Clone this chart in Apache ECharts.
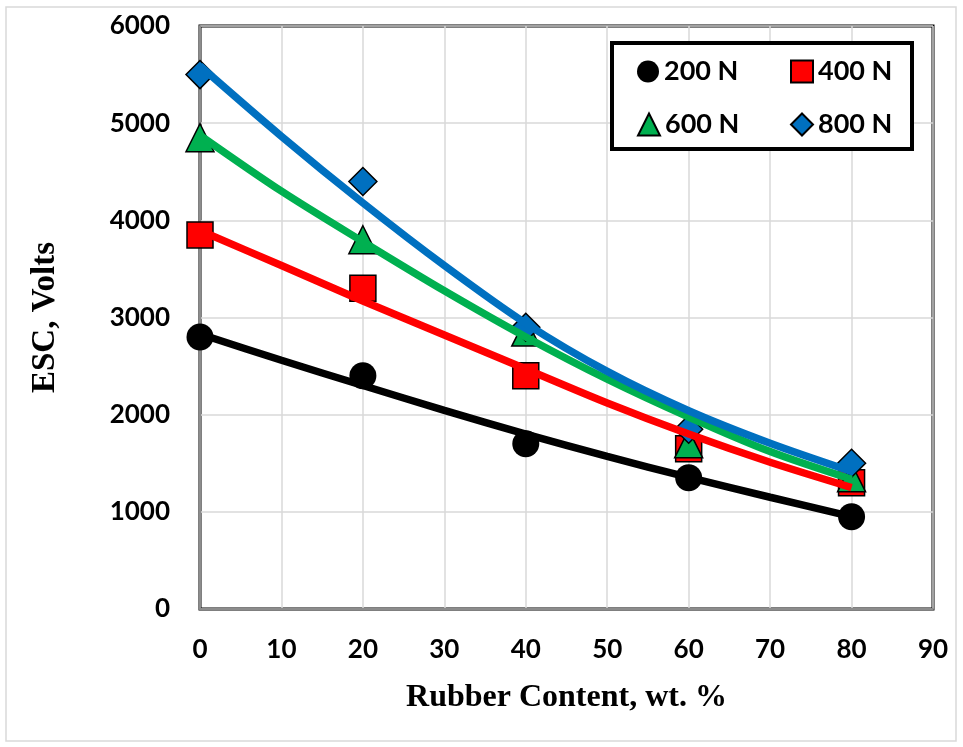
<!DOCTYPE html>
<html>
<head>
<meta charset="utf-8">
<script src="https://cdn.jsdelivr.net/npm/echarts@6/dist/echarts.min.js"></script>
<style>
html,body{margin:0;padding:0;background:#fff;}
#chart{width:963px;height:747px;}
</style>
</head>
<body>
<div id="chart"></div>
<script>
var xValues = [0, 20, 40, 60, 80];
var esc200 = [2800, 2400, 1700, 1350, 950];
var esc400 = [3850, 3300, 2400, 1650, 1300];
var esc600 = [4850, 3800, 2850, 1700, 1350];
var esc800 = [5500, 4400, 2900, 1850, 1500];
// Trend-line values every 10 wt.%
var fitX = [0, 10, 20, 30, 40, 50, 60, 70, 80];
var fit200 = [2830, 2560, 2300, 2045, 1800, 1570, 1355, 1150, 950];
var fit400 = [3895, 3535, 3170, 2820, 2470, 2120, 1800, 1510, 1250];
var fit600 = [4875, 4300, 3780, 3275, 2800, 2365, 1975, 1620, 1335];
var fit800 = [5590, 4865, 4180, 3535, 2940, 2445, 2040, 1705, 1415];
var seriesNames = ['200 N', '400 N', '600 N', '800 N'];
var xAxisTitle = 'Rubber Content, wt. %';
var yAxisTitle = 'ESC, Volts';

function pairs(xs, ys) { return xs.map(function (x, i) { return [x, ys[i]]; }); }

var colors = ['#000000', '#ff0000', '#00b050', '#0070c0'];
var symbols = ['circle', 'rect', 'triangle', 'diamond'];
var sizes = [27, 26, 28, 28];
var raw = [esc200, esc400, esc600, esc800];
var fits = [fit200, fit400, fit600, fit800];

var series = [];
raw.forEach(function (d, i) {
  series.push({
    name: seriesNames[i], type: 'scatter', data: pairs(xValues, d), z: 2,
    symbol: symbols[i], symbolSize: sizes[i],
    itemStyle: { color: colors[i], borderColor: '#000', borderWidth: i === 0 ? 0 : 1.5, opacity: 1 }
  });
});
fits.forEach(function (d, i) {
  series.push({
    name: seriesNames[i] + ' trend', type: 'line', data: pairs(fitX, d), z: 3 + i,
    smooth: 0.3, showSymbol: false, symbol: 'none',
    lineStyle: { color: colors[i], width: 7.5 }
  });
});

var legendPos = [[637, 58], [790, 58], [637, 111], [790, 111]];
var legends = seriesNames.map(function (n, i) {
  return {
    data: [n], left: legendPos[i][0], top: legendPos[i][1],
    itemWidth: 22, itemHeight: 22, itemGap: 0, padding: 0, z: 20,
    textStyle: { fontFamily: 'Lato', fontWeight: 'bold', fontSize: 27, color: '#000', padding: [0, 0, 0, 0] },
    selectedMode: false
  };
});

var chart = echarts.init(document.getElementById('chart'));
chart.setOption({
  animation: false,
  backgroundColor: '#fff',
  grid: { left: 200, right: 30, top: 26, bottom: 138, show: true, borderColor: '#000', borderWidth: 3 },
  xAxis: {
    type: 'value', min: 0, max: 90, interval: 10,
    name: xAxisTitle, nameLocation: 'middle', nameGap: 73,
    nameTextStyle: { fontFamily: 'Liberation Serif', fontWeight: 'bold', fontSize: 32, color: '#000' },
    axisLine: { show: true, onZero: false, lineStyle: { color: '#8c8c8c', width: 2 } },
    axisTick: { show: false },
    axisLabel: { margin: 28, fontFamily: 'Lato', fontWeight: 'bold', fontSize: 26, color: '#000' },
    splitLine: { show: true, lineStyle: { color: '#d9d9d9', width: 1.5 } }
  },
  yAxis: {
    type: 'value', min: 0, max: 6000, interval: 1000,
    name: yAxisTitle, nameLocation: 'middle', nameGap: 138, nameRotate: 90,
    nameTextStyle: { fontFamily: 'Liberation Serif', fontWeight: 'bold', fontSize: 33, color: '#000' },
    axisLine: { show: true, onZero: false, lineStyle: { color: '#8c8c8c', width: 2 } },
    axisTick: { show: false },
    axisLabel: { margin: 30, fontFamily: 'Lato', fontWeight: 'bold', fontSize: 26, color: '#000',
      formatter: function (v) { return String(v); } },
    splitLine: { show: true, lineStyle: { color: '#d9d9d9', width: 1.5 } }
  },
  legend: legends,
  graphic: [
    { type: 'rect', shape: { x: 6, y: 7, width: 950, height: 734 }, style: { fill: 'none', stroke: '#d9d9d9', lineWidth: 1.5 }, z: -1 },
    { type: 'rect', shape: { x: 612, y: 43, width: 300, height: 106 }, style: { fill: '#fff', stroke: '#000', lineWidth: 4 }, z: 5 }
  ],
  series: series
});
</script>
</body>
</html>
